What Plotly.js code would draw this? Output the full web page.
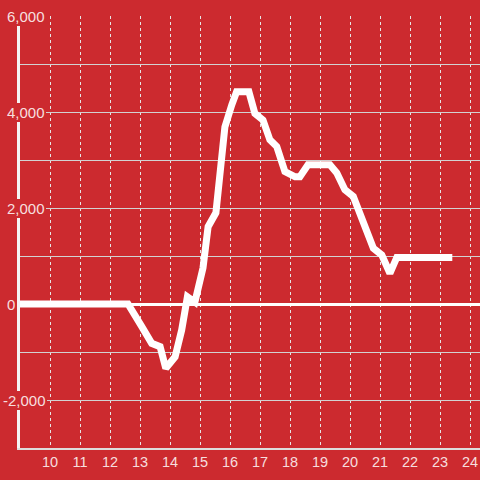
<!DOCTYPE html>
<html>
<head>
<meta charset="utf-8">
<script src="https://cdn.plot.ly/plotly-3.0.1.min.js"></script>
<style>
html,body{margin:0;padding:0;background:#cc2a2f;}
#chart{width:480px;height:480px;}
</style>
</head>
<body>
<div id="chart"></div>
<script>
// Data
const hours = [9, 12.6, 13.06, 13.39, 13.67, 13.86, 14.17, 14.39, 14.58, 14.83, 15.1, 15.27, 15.53, 15.83, 16.06, 16.22, 16.63, 16.83, 17.1, 17.33, 17.56, 17.83, 18.17, 18.33, 18.6, 19.33, 19.56, 19.83, 20.11, 20.39, 20.78, 21.06, 21.33, 21.56, 23.41];
const values = [0, 0, -470, -820, -890, -1340, -1100, -540, 150, 40, 750, 1610, 1900, 3690, 4150, 4420, 4420, 3970, 3830, 3420, 3280, 2760, 2650, 2650, 2900, 2900, 2730, 2380, 2240, 1750, 1160, 1020, 640, 970, 970];
const xTickVals = [10, 11, 12, 13, 14, 15, 16, 17, 18, 19, 20, 21, 22, 23, 24];
const yTickVals = [-2000, 0, 2000, 4000, 6000];
const yTickText = ['-2,000', '0', '2,000', '4,000', '6,000'];

const BG = '#cc2a2f';
const TXT = 'rgba(255,255,255,0.86)';
const FONT = 'Liberation Sans, Arial, sans-serif';

const W = 480, ML = 20, MR = 0;
const plotW = W - ML - MR;
const labelLeftPx = 6;

const annotations = yTickVals.map((v, i) => ({
  x: (labelLeftPx - ML) / plotW,
  xref: 'paper',
  y: v,
  yref: 'y',
  text: yTickText[i],
  showarrow: false,
  xanchor: 'left',
  yanchor: 'middle',
  xshift: v < 0 ? -4.5 : 0,
  bgcolor: BG,
  borderpad: 1,
  borderwidth: 0,
  font: {family: FONT, size: 15, color: TXT}
}));

const trace = {
  x: hours,
  y: values,
  type: 'scatter',
  mode: 'lines',
  line: {color: '#ffffff', width: 7},
  hoverinfo: 'skip'
};

const layout = {
  width: 480,
  height: 480,
  margin: {l: ML, r: MR, t: 16, b: 32},
  paper_bgcolor: BG,
  plot_bgcolor: BG,
  showlegend: false,
  font: {family: FONT, size: 14.5, color: TXT},
  xaxis: {
    range: [9, 9 + plotW / 30],
    tickvals: xTickVals,
    ticktext: xTickVals.map(String),
    showgrid: true,
    gridcolor: '#e6e6e6',
    gridwidth: 1,
    griddash: 'dot',
    zeroline: false,
    showline: true,
    linecolor: '#dddddd',
    linewidth: 2,
    ticks: '',
    tickfont: {family: FONT, size: 14.5, color: TXT},
    fixedrange: true
  },
  yaxis: {
    range: [-3000, 6000],
    tickvals: [-2000, -1000, 1000, 2000, 3000, 4000, 5000, 6000],
    showticklabels: false,
    showgrid: true,
    gridcolor: '#d2d2d2',
    gridwidth: 1,
    zeroline: true,
    zerolinecolor: '#ffffff',
    zerolinewidth: 3,
    showline: true,
    linecolor: '#f4f4f4',
    linewidth: 3,
    ticks: '',
    fixedrange: true
  },
  annotations: annotations
};

Plotly.newPlot('chart', [trace], layout, {displayModeBar: false, staticPlot: true});
</script>
</body>
</html>
